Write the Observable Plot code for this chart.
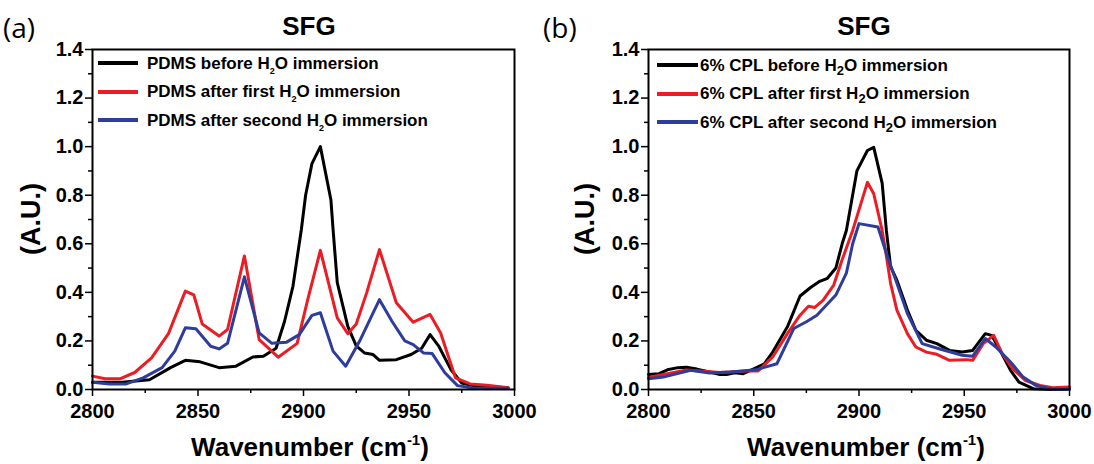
<!DOCTYPE html>
<html><head><meta charset="utf-8">
<script src="https://cdn.jsdelivr.net/npm/d3@7"></script>
<script src="https://cdn.jsdelivr.net/npm/@observablehq/plot@0.6"></script>
<style>
body{margin:0;background:#fff}
#root{position:relative;width:1094px;height:464px;overflow:hidden;font-family:"Liberation Sans",Arial,sans-serif;color:#000;background:#fff}
.abs{position:absolute;white-space:nowrap;line-height:1}
.title{font-weight:bold;font-size:26px;width:200px;text-align:center}
.panel{font-family:"Open Sans",sans-serif;font-size:28px}
.xt{font-weight:bold;font-size:26px;width:300px;text-align:center}
.xt .sup{font-size:15px;position:relative;top:-11px}
.yt{font-weight:bold;font-size:27px;transform:translate(-50%,-50%) rotate(-90deg)}
.leg{font-weight:bold;font-size:17px}
.row{height:28.5px;display:flex;align-items:center}
.sw{height:4px;display:inline-block}
.legA .sub{font-size:9px;position:relative;top:5px}
.legB .sub{font-size:13px;position:relative;top:4px}
</style>
</head><body>
<div id="root">
  <div id="pa" class="abs" style="left:0;top:0"></div>
  <div id="pb" class="abs" style="left:540px;top:0"></div>
  <div class="abs panel" style="left:3px;top:13px">(a)</div>
  <div class="abs panel" style="left:543px;top:13px">(b)</div>
  <div class="abs title" style="left:209px;top:13px">SFG</div>
  <div class="abs title" style="left:764px;top:13px">SFG</div>
  <div class="abs xt" style="left:160px;top:434px">Wavenumber (cm<span class="sup">-1</span>)</div>
  <div class="abs xt" style="left:716px;top:434px">Wavenumber (cm<span class="sup">-1</span>)</div>
  <div class="abs yt" style="left:31px;top:219px">(A.U.)</div>
  <div class="abs yt" style="left:585px;top:219px">(A.U.)</div>
  <div id="legA" class="abs leg legA" style="left:98px;top:49px"></div>
  <div id="legB" class="abs leg legB" style="left:657px;top:51px"></div>
</div>
<script>
// ---- data (wavenumber, intensity) ----
const xTicks = [2800, 2850, 2900, 2950, 3000];
const xMinor = [2825, 2875, 2925, 2975];
const yTicks = [0, 0.2, 0.4, 0.6, 0.8, 1.0, 1.2, 1.4];
const yMinor = [0.1, 0.3, 0.5, 0.7, 0.9, 1.1, 1.3];
const colors = ["#000000", "#ec1c24", "#2e3c9c"];

const pdmsBefore = [[2800,0.03],[2814,0.03],[2827,0.04],[2837,0.09],[2844,0.12],[2851,0.114],[2860,0.09],[2868,0.096],[2876,0.134],[2881,0.137],[2887,0.17],[2891,0.28],[2895,0.425],[2899,0.66],[2901,0.8],[2904,0.93],[2908,1.0],[2913,0.78],[2914,0.66],[2916,0.44],[2921,0.26],[2925,0.18],[2929,0.15],[2933,0.144],[2936,0.12],[2944,0.123],[2951,0.144],[2956,0.17],[2960,0.226],[2964,0.18],[2970,0.08],[2975,0.027],[2981,0.014],[2997,0.007]];
const pdmsFirst = [[2800,0.055],[2806,0.044],[2813,0.044],[2820,0.07],[2828,0.13],[2836,0.23],[2844,0.405],[2848,0.39],[2852,0.27],[2860,0.22],[2864,0.247],[2872,0.55],[2879,0.205],[2888,0.133],[2897,0.19],[2902,0.37],[2908,0.573],[2916,0.295],[2921,0.23],[2925,0.27],[2930,0.40],[2936,0.576],[2944,0.357],[2952,0.277],[2960,0.309],[2965,0.233],[2972,0.048],[2979,0.023],[2987,0.018],[2997,0.007]];
const pdmsSecond = [[2800,0.03],[2808,0.023],[2816,0.023],[2824,0.048],[2833,0.09],[2839,0.158],[2844,0.254],[2849,0.25],[2856,0.178],[2860,0.167],[2864,0.19],[2872,0.464],[2879,0.233],[2885,0.19],[2892,0.195],[2898,0.226],[2904,0.305],[2908,0.316],[2914,0.158],[2920,0.096],[2927,0.206],[2936,0.37],[2942,0.28],[2948,0.2],[2952,0.185],[2957,0.15],[2961,0.148],[2967,0.069],[2973,0.016],[2981,0.005],[2997,0.005]];

const cplBefore = [[2800,0.062],[2805,0.065],[2809,0.081],[2814,0.09],[2818,0.092],[2823,0.084],[2829,0.072],[2834,0.062],[2837,0.062],[2841,0.069],[2845,0.065],[2850,0.085],[2855,0.106],[2859,0.154],[2866,0.258],[2872,0.385],[2877,0.42],[2881,0.444],[2885,0.458],[2889,0.5],[2892,0.6],[2894,0.655],[2899,0.9],[2904,0.984],[2907,0.997],[2911,0.85],[2913,0.655],[2915,0.506],[2918,0.45],[2923,0.327],[2927,0.244],[2932,0.203],[2937,0.189],[2943,0.161],[2949,0.154],[2954,0.161],[2960,0.23],[2963,0.223],[2967,0.161],[2972,0.079],[2976,0.03],[2983,0.003],[2992,0.0],[3000,0.003]];
const cplFirst = [[2800,0.05],[2818,0.08],[2834,0.07],[2847,0.076],[2852,0.076],[2859,0.134],[2866,0.23],[2872,0.306],[2876,0.343],[2879,0.338],[2883,0.368],[2888,0.43],[2892,0.534],[2897,0.655],[2904,0.853],[2907,0.806],[2911,0.655],[2913,0.55],[2915,0.437],[2918,0.327],[2923,0.23],[2927,0.175],[2932,0.154],[2937,0.145],[2943,0.12],[2951,0.123],[2954,0.12],[2959,0.189],[2964,0.223],[2968,0.148],[2973,0.086],[2979,0.037],[2986,0.017],[2992,0.007],[3000,0.01]];
const cplSecond = [[2800,0.044],[2807,0.051],[2820,0.079],[2829,0.068],[2839,0.072],[2851,0.081],[2861,0.106],[2869,0.251],[2875,0.279],[2880,0.306],[2889,0.389],[2894,0.479],[2897,0.6],[2900,0.683],[2909,0.669],[2913,0.561],[2918,0.437],[2923,0.313],[2930,0.189],[2938,0.168],[2949,0.141],[2954,0.137],[2960,0.21],[2965,0.175],[2972,0.113],[2978,0.051],[2984,0.017],[2992,0.001],[3000,0.001]];

const legendA = ["PDMS before H|2|O immersion", "PDMS after first H|2|O immersion", "PDMS after second H|2|O immersion"];
const legendB = ["6% CPL before H|2|O immersion", "6% CPL after first H|2|O immersion", "6% CPL after second H|2|O immersion"];

function panel(series, width, marginLeft, marginRight) {
  return Plot.plot({
    width, height: 464, marginLeft, marginRight, marginTop: 49, marginBottom: 75,
    x: {domain: [2800, 3000]},
    y: {domain: [0, 1.4]},
    style: {fontFamily: '"Liberation Sans", Arial, sans-serif', fontSize: "20px", fontWeight: "bold", color: "#000", background: "transparent", overflow: "visible"},
    marks: [
      Plot.axisX(xMinor, {tickSize: 4, tickFormat: () => "", strokeWidth: 1.5, label: null}),
      Plot.axisX(xTicks, {tickSize: 7, tickPadding: 7, tickFormat: d3.format("d"), strokeWidth: 1.5, label: null}),
      Plot.axisY(yMinor, {tickSize: 4, tickFormat: () => "", strokeWidth: 1.5, label: null}),
      Plot.axisY(yTicks, {tickSize: 7, tickPadding: 2, tickFormat: d3.format(".1f"), strokeWidth: 1.5, label: null}),
      ...series.map((s, i) => Plot.line(s, {x: d => d[0], y: d => d[1], stroke: colors[i], strokeWidth: 3, strokeLinejoin: "round"})),
      Plot.frame({stroke: "#000", strokeWidth: 2})
    ]
  });
}

document.getElementById("pa").append(panel([pdmsBefore, pdmsFirst, pdmsSecond], 540, 92, 26));
document.getElementById("pb").append(panel([cplBefore, cplFirst, cplSecond], 554, 108, 25));

function legend(el, labels, swW, gap) {
  labels.forEach((lab, i) => {
    const row = document.createElement("div");
    row.className = "row";
    const sw = document.createElement("span");
    sw.className = "sw";
    sw.style.width = swW + "px";
    sw.style.marginRight = gap + "px";
    sw.style.background = colors[i];
    row.append(sw);
    const t = document.createElement("span");
    const parts = lab.split("|");
    t.innerHTML = parts[0] + '<span class="sub">' + parts[1] + '</span>' + parts[2];
    row.append(t);
    el.append(row);
  });
}
legend(document.getElementById("legA"), legendA, 40, 9);
legend(document.getElementById("legB"), legendB, 41, 2);
</script>
</body></html>
